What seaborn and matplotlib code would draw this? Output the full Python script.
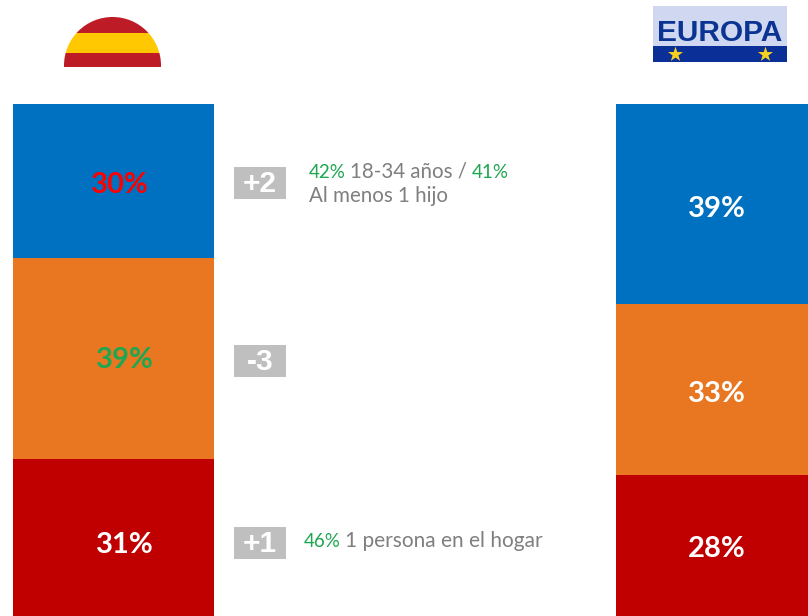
import matplotlib
matplotlib.use("Agg")
import matplotlib.pyplot as plt
from matplotlib.patches import Circle, Rectangle
import seaborn as sns
import pandas as pd

regions = ["España", "Europa"]
segment_names = ["Azul", "Naranja", "Rojo"]
azul = [30.1, 39.0]
naranja = [39.2, 33.4]
rojo = [30.7, 27.6]
bar_colors = ["#0070C0", "#E97722", "#C00000"]
labels_spain = ["30%", "39%", "31%"]
labels_europe = ["39%", "33%", "28%"]
deltas = ["+2", "-3", "+1"]

GREEN = "#1EA650"
GREY = "#7F7F7F"
FONT = ["Lato", "DejaVu Sans"]

sns.set_theme(style="white")
plt.rcParams["font.family"] = FONT

fig = plt.figure(figsize=(8.08, 6.16), dpi=100)
fig.patch.set_facecolor("white")
ax = fig.add_axes([0, 0, 1, 512 / 616])

# stacked bars drawn back to front from cumulative totals
totals = [
    [a + n + r for a, n, r in zip(azul, naranja, rojo)],
    [n + r for n, r in zip(naranja, rojo)],
    list(rojo),
]
for name, tot, col in zip(segment_names, totals, bar_colors):
    df = pd.DataFrame({"region": regions, "valor": tot})
    sns.barplot(data=df, x="region", y="valor", color=col, width=201 / 603,
                saturation=1, ax=ax, errorbar=None, linewidth=0, zorder=2)
ax.set_xlim(-113.5 / 603, (808 - 113.5) / 603)
ax.set_ylim(0, 100)
ax.axis("off")

ov = fig.add_axes([0, 0, 1, 1], facecolor="none")
ov.set_xlim(0, 808)
ov.set_ylim(616, 0)
ov.axis("off")

# Spanish flag half-disc
clip = Circle((112.5, 65.5), 48.5, transform=ov.transData)
for y0, y1, c in [(15, 33, "#BD1B25"), (33, 53, "#FFC800"), (53, 67, "#BD1B25")]:
    r = Rectangle((60, y0), 105, y1 - y0, facecolor=c, edgecolor="none", zorder=3)
    ov.add_patch(r)
    r.set_clip_path(clip)

# Europa logo
ov.add_patch(Rectangle((653, 6), 134, 40, facecolor="#CFD8F0", edgecolor="none", zorder=3))
ov.add_patch(Rectangle((653, 46), 134, 16, facecolor="#0A2F96", edgecolor="none", zorder=3))
ov.text(720, 33, "EUROPA", color="#0B3492", fontsize=21.5, fontweight="bold",
        family=["Liberation Sans"], ha="center", va="center", zorder=4)
ov.scatter([675, 765], [54, 54], marker="*", s=130, color="#F6D21E", linewidths=0, zorder=4)

# bar value labels
for (x, y), t, c in zip([(120, 185), (125, 360), (125, 545)], labels_spain,
                        ["#FF0000", "#1EA650", "white"]):
    ov.text(x, y, t, color=c, fontsize=21, fontweight="bold", ha="center", va="center", zorder=5)
for (x, y), t in zip([(717, 209), (717, 394), (717, 549)], labels_europe):
    ov.text(x, y, t, color="white", fontsize=21, fontweight="bold", ha="center", va="center", zorder=5)

# delta boxes
for yc, t in zip([183, 361, 543], deltas):
    ov.add_patch(Rectangle((234, yc - 16), 52, 32, facecolor="#BFBFBF", edgecolor="none", zorder=3))
    ov.text(260, yc + 1, t, color="white", fontsize=21.5, fontweight="bold",
            family=["Liberation Sans"], ha="center", va="center", zorder=4)

# multi-coloured annotation runs: (text, colour, size)
def runs(x, y, parts, gap=4.5):
    rend = fig.canvas.get_renderer()
    for s, c, size in parts:
        t = ov.text(x, y, s, color=c, fontsize=size, ha="left", va="baseline", zorder=5)
        x += t.get_window_extent(rend).width + gap

runs(309, 178, [("42%", GREEN, 13.5), ("18-34 años /", GREY, 14.8), ("41%", GREEN, 13.5)])
runs(309, 202, [("Al menos 1 hijo", GREY, 14.8)])
runs(304, 547, [("46%", GREEN, 13.5), ("1 persona en el hogar", GREY, 15)])

fig.savefig("out.png", dpi=100)
